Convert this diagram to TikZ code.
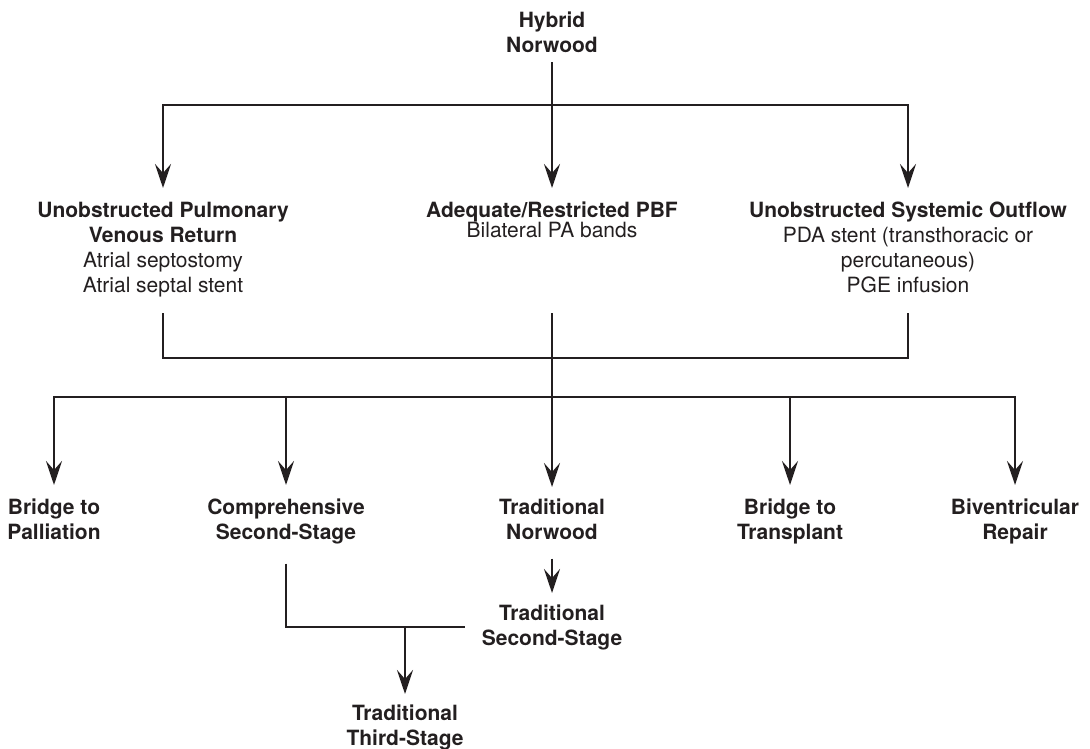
\documentclass[tikz,border=0pt]{standalone}
\usepackage{fontspec}
\setmainfont{TeX Gyre Heros}
\usetikzlibrary{arrows.meta}
\definecolor{ink}{RGB}{35,31,32}
\newcommand{\fst}{\rule{0pt}{18pt}}
\begin{document}
\begin{tikzpicture}[x=1pt,y=-1pt,
  lbl/.style={align=center, inner sep=0pt, outer sep=0pt, anchor=north,
    font=\fontsize{21}{25}\selectfont, text=ink},
  conn/.style={draw=ink, line width=2.7pt},
  arr/.style={conn, -{Stealth[length=24pt,width=16pt,inset=9pt]}}]
\useasboundingbox (0,0) rectangle (1090,749);

% nodes
\node[lbl] (hybrid) at (552,9.5) {\fst\textbf{Hybrid}\\\textbf{Norwood}};
\node[lbl] (upvr) at (163,199.5) {\fst\textbf{Unobstructed Pulmonary}\\\textbf{Venous Return}\\Atrial septostomy\\Atrial septal stent};
\node[lbl] (pbf) at (552,199.5) {\fst\textbf{Adequate/Restricted PBF}\\[-5pt]Bilateral PA bands};
\node[lbl] (uso) at (908,199.5) {\fst\textbf{Unobstructed Systemic Outflow}\\PDA stent (transthoracic or\\percutaneous)\\PGE infusion};

\node[lbl] (bp) at (54,496) {\fst\textbf{Bridge to}\\\textbf{Palliation}};
\node[lbl] (cs) at (286,496) {\fst\textbf{Comprehensive}\\\textbf{Second-Stage}};
\node[lbl] (tn) at (552,496) {\fst\textbf{Traditional}\\\textbf{Norwood}};
\node[lbl] (bt) at (790,496) {\fst\textbf{Bridge to}\\\textbf{Transplant}};
\node[lbl] (br) at (1015,496) {\fst\textbf{Biventricular}\\\textbf{Repair}};

\node[lbl] (tss) at (552,602) {\fst\textbf{Traditional}\\\textbf{Second-Stage}};
\node[lbl] (tts) at (405,702) {\fst\textbf{Traditional}\\\textbf{Third-Stage}};

% junction coordinates
\coordinate (hub1) at (552,105);
\coordinate (top2) at (552,313);
\coordinate (hub2) at (552,358);
\coordinate (hub3) at (552,397);
\coordinate (hub4) at (405,627);
\coordinate (stub) at (465,627);

% connectors
\draw[arr, shorten <=9.5pt, shorten >=11.5pt] (hybrid.south) -- (pbf.north);
\draw[arr, shorten >=11.5pt] (hub1) -| (upvr.north);
\draw[arr, shorten >=11.5pt] (hub1) -| (uso.north);

\draw[conn] (upvr.south |- top2) |- (hub2) -| (uso.south |- top2);
\draw[arr, shorten >=9pt] (top2) -- (tn.north);

\draw[arr, shorten >=11pt] (hub3) -| (bp.north);
\draw[arr, shorten >=11pt] (hub3) -| (cs.north);
\draw[arr, shorten >=11pt] (hub3) -| (bt.north);
\draw[arr, shorten >=11pt] (hub3) -| (br.north);

\draw[arr, shorten <=19.5pt, shorten >=9pt] (tn.south) -- (tss.north);

\draw[conn, shorten <=20pt] (cs.south) |- (stub);
\draw[arr, shorten >=8pt] (hub4) -- (tts.north);
\end{tikzpicture}
\end{document}
